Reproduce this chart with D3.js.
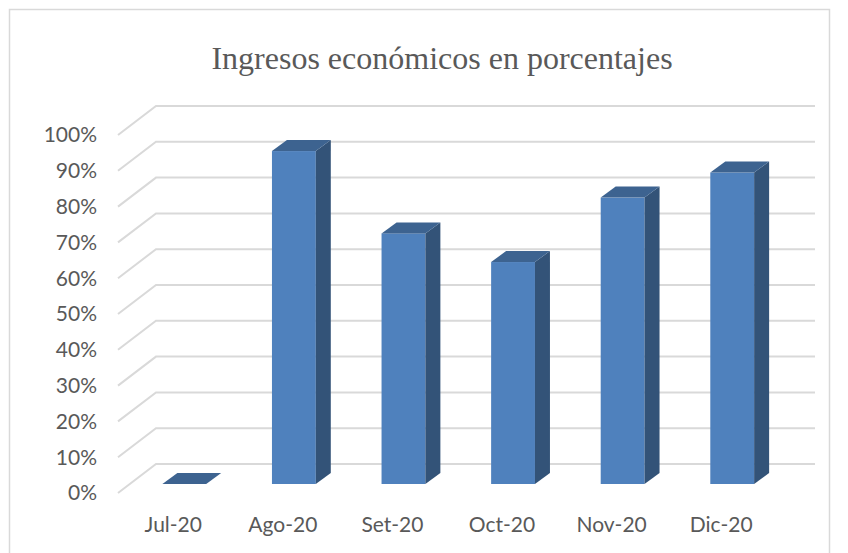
<!DOCTYPE html>
<html>
<head>
	<script src="https://d3js.org/d3.v7.min.js"></script>
</head>
<body style="margin:0;background:#fff">
<style>
.grid { stroke: #d9d9d9; stroke-width: 2px; fill: none; }
.label { font-family: "Lato", sans-serif; font-size: 21px; fill: #595959; }
.title { font-family: "Liberation Serif", serif; font-size: 32px; fill: #595959; }
</style>
<svg width="848" height="553"></svg>
<script>

var categories = ["Jul-20", "Ago-20", "Set-20", "Oct-20", "Nov-20", "Dic-20"];
var values = [0, 93, 70, 62, 80, 87];
var ticks = [0, 10, 20, 30, 40, 50, 60, 70, 80, 90, 100];

var svg = d3.select("svg");

// frame
svg.append("rect")
	.attr("x", 9.5).attr("y", 9.5)
	.attr("width", 820).attr("height", 560)
	.attr("fill", "#fff").attr("stroke", "#d9d9d9").attr("stroke-width", 1.5);

svg.append("text")
	.attr("class", "title")
	.attr("x", 442).attr("y", 69)
	.attr("text-anchor", "middle")
	.text("Ingresos económicos en porcentajes");

// y is measured on the plane of the bar fronts
var y = d3.scaleLinear().domain([0, 100]).range([484, 126]);
var x = d3.scaleBand().domain(categories).range([129.5, 787]).paddingInner(0.6).paddingOuter(0.3);

// depth offsets
var wallDx = 38, wallDy = -29;
var floorDy = 9;
var barDx = 15, barDy = -11;
var gridLeft = 118, gridRight = 815;

svg.append("g").selectAll("path")
	.data(ticks)
	.enter().append("path")
	.attr("class", "grid")
	.attr("d", function(d) {
		var yf = y(d) + floorDy;
		return "M" + gridLeft + "," + yf + "L" + (gridLeft + wallDx) + "," + (yf + wallDy) + "L" + gridRight + "," + (yf + wallDy);
	});

svg.append("g").selectAll("text")
	.data(ticks)
	.enter().append("text")
	.attr("class", "label")
	.attr("x", 97)
	.attr("y", function(d) { return y(d) + floorDy; })
	.attr("dy", "0.35em")
	.attr("text-anchor", "end")
	.text(function(d) { return d + "%"; });

var bars = svg.append("g").selectAll("g")
	.data(categories)
	.enter().append("g");

function val(i) { return values[i]; }

// front face
bars.append("rect")
	.attr("x", function(d) { return x(d); })
	.attr("y", function(d, i) { return y(val(i)); })
	.attr("width", x.bandwidth())
	.attr("height", function(d, i) { return y(0) - y(val(i)); })
	.attr("fill", "#4f81bd");

// side face
bars.append("path")
	.attr("fill", "#335378")
	.attr("d", function(d, i) {
		var r = x(d) + x.bandwidth(), t = y(val(i)), b = y(0);
		return "M" + r + "," + t + "L" + (r + barDx) + "," + (t + barDy) + "L" + (r + barDx) + "," + (b + barDy) + "L" + r + "," + b + "Z";
	});

// top face
bars.append("path")
	.attr("fill", "#3d6390")
	.attr("d", function(d, i) {
		var l = x(d), r = l + x.bandwidth(), t = y(val(i));
		return "M" + l + "," + t + "L" + (l + barDx) + "," + (t + barDy) + "L" + (r + barDx) + "," + (t + barDy) + "L" + r + "," + t + "Z";
	});

svg.append("g").selectAll("text")
	.data(categories)
	.enter().append("text")
	.attr("class", "label")
	.attr("x", function(d) { return x(d) + x.bandwidth() / 2 - 11; })
	.attr("y", 525)
	.attr("dy", "0.35em")
	.attr("text-anchor", "middle")
	.text(function(d) { return d; });

</script>
</body>
</html>
